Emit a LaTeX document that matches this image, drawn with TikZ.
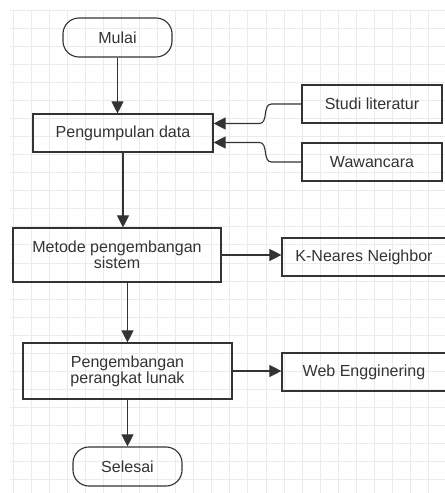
\documentclass[tikz,border=0pt]{standalone}
\usepackage{fontspec}
\setmainfont{Liberation Sans}
\usetikzlibrary{arrows.meta}
\definecolor{garis}{HTML}{333333}
\definecolor{kisi}{HTML}{EBEBEB}

\begin{document}
\begin{tikzpicture}[x=0.025cm,y=-0.025cm,
  kotak/.style={draw=garis,line width=0.8pt,rectangle,align=center,inner sep=0pt,text=garis,font=\fontsize{11.4}{11.5}\selectfont},
  mulaiselesai/.style={kotak,rounded corners=0.4cm},
  panah/.style={draw=garis,line width=0.8pt,-{Triangle[length=0.3cm,width=0.3cm]}}]

\useasboundingbox (0,0) rectangle (445,493);

%grid
\foreach \i in {0,...,23} \draw[kisi,line width=0.6pt] (13+18.07*\i,10) -- (13+18.07*\i,493);
\foreach \j in {0,...,26} \draw[kisi,line width=0.6pt] (10,10+18.07*\j) -- (445,10+18.07*\j);

\node[mulaiselesai,minimum width=2.725cm,minimum height=0.975cm] (mulai) at (117.5,37.5) {Mulai};
\node[kotak,minimum width=4.5cm,minimum height=0.95cm] (kumpul) at (123,133) {Pengumpulan data};
\node[kotak,minimum width=3.5cm,minimum height=0.95cm] (studi) at (372,104) {Studi literatur};
\node[kotak,minimum width=3.5cm,minimum height=0.95cm] (wawan) at (372,162) {Wawancara};
\node[kotak,minimum width=5.2cm,minimum height=1.35cm] (metode) at (117,255) {Metode pengembangan\\sistem};
\node[kotak,minimum width=4.1cm,minimum height=0.95cm] (knn) at (364,257) {K-Neares Neighbor};
\node[kotak,minimum width=5.225cm,minimum height=1.4cm] (bangun) at (127.5,371) {Pengembangan\\perangkat lunak};
\node[kotak,minimum width=4.1cm,minimum height=0.95cm] (web) at (364,372) {Web Engginering};
\node[mulaiselesai,minimum width=2.725cm,minimum height=0.975cm] (selesai) at (127.5,466.5) {Selesai};

%alur utama
\draw[panah] (mulai.south) -- (mulai.south |- kumpul.north);
\draw[panah] (kumpul.south) -- (kumpul.south |- metode.north);
\draw[panah] (bangun.north |- metode.south) -- (bangun.north);
\draw[panah] (bangun.south) -- (selesai.north);

%masukan dan metode
\draw[panah] (studi.west) -- ++(-30,0) to[out=180,in=0] ++(-12,19.5) -- ([yshift=0.2375cm]kumpul.east);
\draw[panah] (wawan.west) -- ++(-30,0) to[out=180,in=0] ++(-12,-19.5) -- ([yshift=-0.2375cm]kumpul.east);
\draw[panah] (metode.east) -- (metode.east -| knn.west);
\draw[panah] (bangun.east) -- (bangun.east -| web.west);
\end{tikzpicture}
\end{document}
